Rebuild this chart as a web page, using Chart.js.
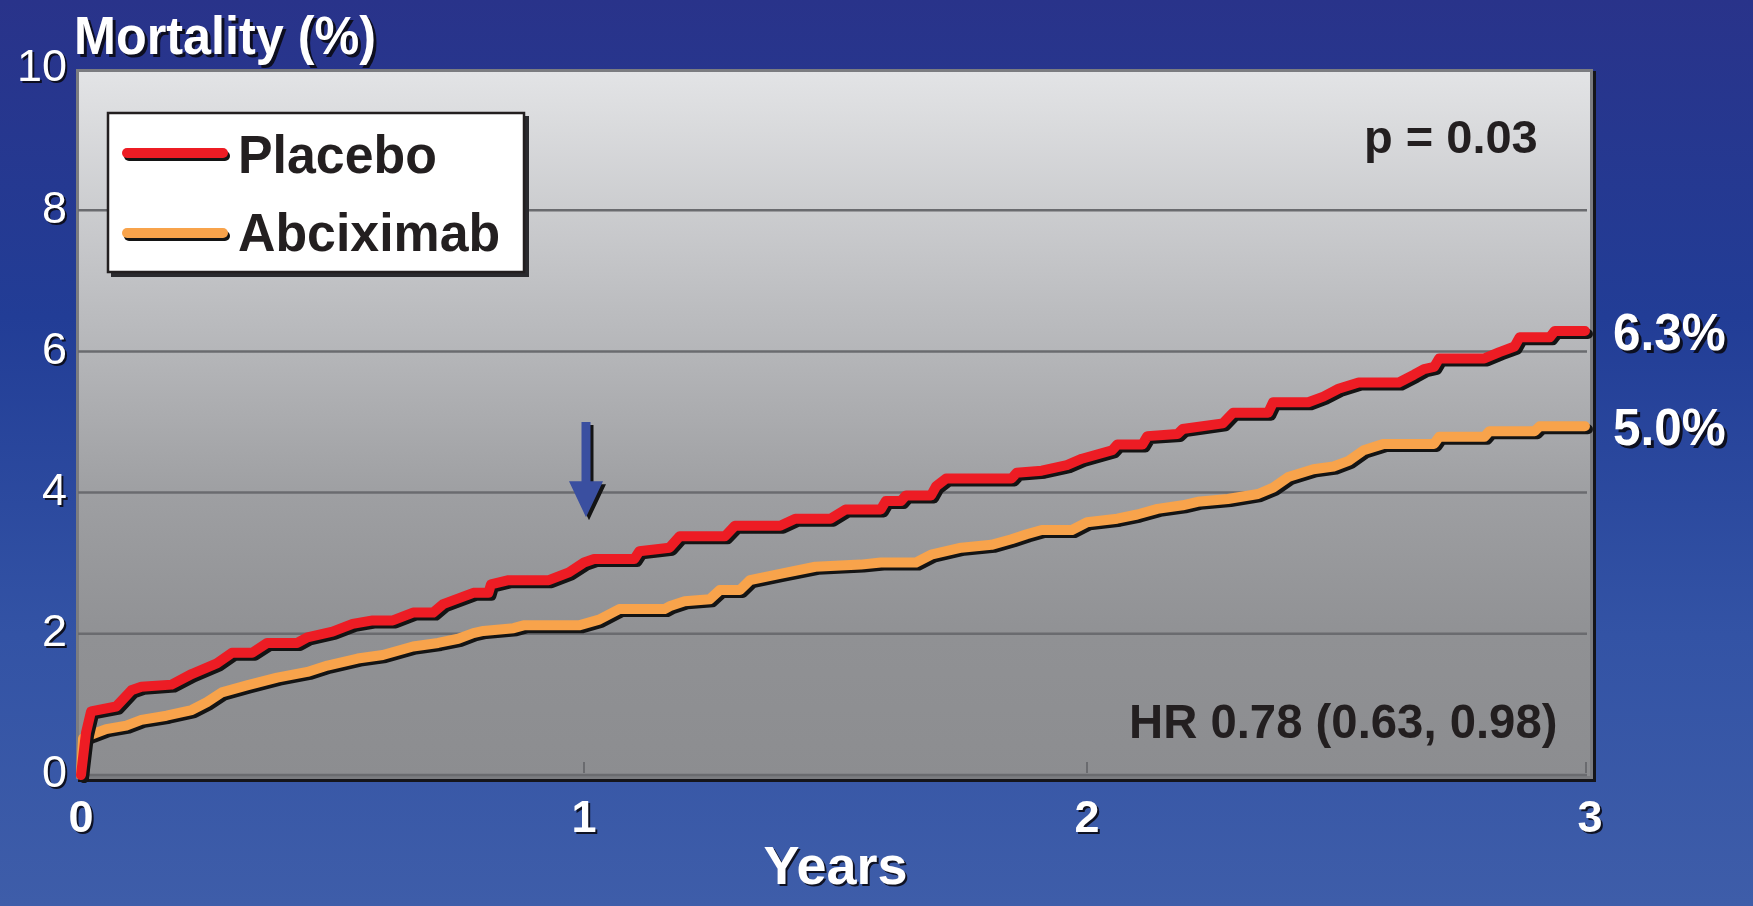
<!DOCTYPE html>
<html>
<head>
<meta charset="utf-8">
<script src="https://cdn.jsdelivr.net/npm/chart.js@4.4.0/dist/chart.umd.min.js"></script>
<style>
  html, body { margin: 0; padding: 0; }
  #wrap {
    width: 1753px; height: 906px; position: relative;
    background: linear-gradient(to bottom, #29338a 0%, #223d96 35%, #3353a5 70%, #3e5da9 100%);
  }
</style>
</head>
<body>
<div id="wrap"><canvas id="chart"></canvas></div>
<script>
// tick values / labels
const xTickValues = [0, 1, 2, 3];
const xTickLabels = ['0', '1', '2', '3'];
const yTickValues = [0, 2, 4, 6, 8, 10];
const yTickLabels = ['0', '2', '4', '6', '8', '10'];

// Placebo: years, cumulative mortality %
const placeboYears = [0, 0.01, 0.02, 0.07, 0.1, 0.12, 0.18, 0.22, 0.27, 0.3, 0.34, 0.37, 0.43, 0.45, 0.5, 0.54, 0.58, 0.62, 0.66, 0.7,
  0.72, 0.78, 0.81, 0.815, 0.85, 0.93, 0.97, 1.0, 1.02, 1.1, 1.11, 1.17, 1.19, 1.28, 1.3, 1.39, 1.42, 1.49, 1.52, 1.59,
  1.6, 1.63, 1.64, 1.69, 1.7, 1.72, 1.85, 1.86, 1.91, 1.96, 1.99, 2.05, 2.06, 2.11, 2.12, 2.18, 2.19, 2.27, 2.29, 2.36,
  2.37, 2.44, 2.47, 2.5, 2.54, 2.62, 2.65, 2.67, 2.69, 2.7, 2.79, 2.82, 2.85, 2.86, 2.92, 2.93, 2.99];
const placeboPct = [0, 0.6, 0.9, 0.97, 1.2, 1.25, 1.28, 1.43, 1.58, 1.73, 1.73, 1.87, 1.87, 1.95, 2.03, 2.14, 2.19, 2.19, 2.3, 2.3,
  2.42, 2.58, 2.58, 2.7, 2.76, 2.76, 2.87, 3.01, 3.06, 3.06, 3.17, 3.22, 3.38, 3.38, 3.53, 3.53, 3.63, 3.63, 3.76, 3.76,
  3.88, 3.88, 3.96, 3.96, 4.09, 4.2, 4.2, 4.28, 4.31, 4.39, 4.48, 4.6, 4.68, 4.68, 4.8, 4.83, 4.9, 4.98, 5.13, 5.13,
  5.28, 5.28, 5.36, 5.47, 5.56, 5.56, 5.67, 5.75, 5.78, 5.9, 5.9, 5.99, 6.07, 6.2, 6.2, 6.29, 6.29];

// Abciximab
const abcixYears = [0, 0.004, 0.02, 0.05, 0.09, 0.12, 0.17, 0.22, 0.25, 0.28, 0.33, 0.39, 0.45, 0.49, 0.55, 0.6, 0.66, 0.71, 0.75, 0.78,
  0.8, 0.86, 0.88, 0.99, 1.03, 1.07, 1.16, 1.17, 1.2, 1.25, 1.27, 1.31, 1.33, 1.39, 1.46, 1.55, 1.59, 1.66, 1.69, 1.75,
  1.81, 1.85, 1.88, 1.91, 1.97, 2.0, 2.06, 2.1, 2.14, 2.19, 2.22, 2.28, 2.34, 2.37, 2.4, 2.45, 2.49, 2.52, 2.55, 2.59,
  2.69, 2.7, 2.79, 2.8, 2.89, 2.9, 2.99];
const abcixPct = [0, 0.52, 0.57, 0.65, 0.7, 0.78, 0.84, 0.92, 1.03, 1.17, 1.27, 1.38, 1.46, 1.55, 1.65, 1.7, 1.82, 1.87, 1.93, 2.01,
  2.04, 2.08, 2.12, 2.12, 2.2, 2.35, 2.35, 2.39, 2.46, 2.49, 2.62, 2.62, 2.76, 2.85, 2.95, 2.98, 3.01, 3.01, 3.12, 3.22,
  3.26, 3.34, 3.41, 3.47, 3.47, 3.58, 3.63, 3.69, 3.77, 3.82, 3.87, 3.91, 3.98, 4.07, 4.22, 4.33, 4.37, 4.45, 4.6, 4.69,
  4.69, 4.79, 4.79, 4.87, 4.87, 4.94, 4.94];

const seriesNames = ['Placebo', 'Abciximab'];
const seriesColors = ['#ed1c24', '#f8a34b'];
const endLabels = ['6.3%', '5.0%'];

// blue arrow at year 1 (value range in %)
const arrowYear = 1;
const arrowTop = 5.0, arrowHeadBase = 4.16, arrowTip = 3.65;

const FONT = '"Liberation Sans", Arial, Helvetica, sans-serif';
Chart.defaults.font.family = FONT;

function setShadow(ctx, dx, dy, color) {
  ctx.shadowColor = color;
  ctx.shadowOffsetX = dx;
  ctx.shadowOffsetY = dy;
  ctx.shadowBlur = 0;
}
function noShadow(ctx) {
  ctx.shadowColor = 'rgba(0,0,0,0)';
  ctx.shadowOffsetX = 0;
  ctx.shadowOffsetY = 0;
  ctx.shadowBlur = 0;
}
// slightly condensed, taller text like the slide font
function tallText(ctx, txt, x, y, sx) {
  ctx.save();
  ctx.translate(x, y);
  ctx.scale(sx, 1);
  ctx.fillText(txt, 0, 0);
  ctx.restore();
}

const decor = {
  id: 'decor',
  beforeDraw(chart) {
    const ctx = chart.ctx, a = chart.chartArea;
    const xs = chart.scales.x, ys = chart.scales.y;
    const L = a.left - 5, T = a.top, R = a.right + 3, B = a.bottom + 4;
    noShadow(ctx);
    ctx.save();
    // panel shadow
    ctx.fillStyle = '#15151a';
    ctx.fillRect(L + 2, T + 2, R - L + 1, B - T + 1);
    // panel
    const g = ctx.createLinearGradient(0, T, 0, B);
    g.addColorStop(0, '#e3e4e6');
    g.addColorStop(0.3, '#c0c1c4');
    g.addColorStop(0.6, '#9e9fa2');
    g.addColorStop(0.8, '#909194');
    g.addColorStop(1, '#8c8d90');
    ctx.fillStyle = g;
    ctx.fillRect(L, T, R - L, B - T);
    ctx.strokeStyle = '#7b7c80';
    ctx.lineWidth = 3;
    ctx.strokeRect(L + 1.5, T + 1.5, R - L - 3, B - T - 3);
    // horizontal gridlines
    ctx.strokeStyle = '#6a6b6f';
    ctx.lineWidth = 2.5;
    yTickValues.forEach(v => {
      if (v >= 10) return;
      const py = ys.getPixelForValue(v);
      ctx.beginPath();
      ctx.moveTo(L + 2, py);
      ctx.lineTo(R - 6, py);
      ctx.stroke();
    });
    // small tick marks on x axis
    ctx.lineWidth = 2;
    xTickValues.forEach(v => {
      if (v === 0) return;
      const px = xs.getPixelForValue(v) - (v === 3 ? 4 : 0);
      ctx.beginPath();
      ctx.moveTo(px, a.bottom - 13);
      ctx.lineTo(px, a.bottom - 2);
      ctx.stroke();
    });
    ctx.restore();
    // shadow for axis labels and axis title
    setShadow(ctx, 2, 2, 'rgba(10,10,20,0.9)');
  },
  beforeDatasetsDraw(chart) {
    setShadow(chart.ctx, 3, 3, '#141414');
  },
  afterDatasetsDraw(chart) {
    noShadow(chart.ctx);
  },
  afterDraw(chart) {
    const ctx = chart.ctx;
    const xs = chart.scales.x, ys = chart.scales.y;
    ctx.save();

    // title
    setShadow(ctx, 3, 3, 'rgba(10,10,20,0.9)');
    ctx.fillStyle = '#ffffff';
    ctx.font = 'bold 53px ' + FONT;
    ctx.textBaseline = 'alphabetic';
    ctx.textAlign = 'left';
    tallText(ctx, 'Mortality (%)', 74, 54, 0.95);

    // end labels
    ctx.font = 'bold 51px ' + FONT;
    ctx.textBaseline = 'middle';
    chart.data.datasets.forEach((ds, i) => {
      const last = ds.data[ds.data.length - 1];
      tallText(ctx, endLabels[i], 1613, ys.getPixelForValue(last.y) + 5, 0.97);
    });

    // arrow
    const ax = xs.getPixelForValue(arrowYear) + 2;
    const yTop = ys.getPixelForValue(arrowTop);
    const yBase = ys.getPixelForValue(arrowHeadBase);
    const yTip = ys.getPixelForValue(arrowTip);
    setShadow(ctx, 3, 3, '#141414');
    ctx.fillStyle = '#3a4fa0';
    ctx.beginPath();
    ctx.moveTo(ax - 4.5, yTop);
    ctx.lineTo(ax + 4.5, yTop);
    ctx.lineTo(ax + 4.5, yBase);
    ctx.lineTo(ax + 17, yBase);
    ctx.lineTo(ax, yTip);
    ctx.lineTo(ax - 17, yBase);
    ctx.lineTo(ax - 4.5, yBase);
    ctx.closePath();
    ctx.fill();

    // legend box
    setShadow(ctx, 4, 4, '#2a2a2e');
    ctx.fillStyle = '#ffffff';
    ctx.fillRect(107, 112, 418, 161);
    noShadow(ctx);
    ctx.strokeStyle = '#231f20';
    ctx.lineWidth = 2.5;
    ctx.strokeRect(108, 113, 416, 159);
    const rows = [153, 233];
    ctx.lineCap = 'round';
    ctx.lineWidth = 10;
    seriesNames.forEach((name, i) => {
      setShadow(ctx, 2, 3, '#141414');
      ctx.strokeStyle = seriesColors[i];
      ctx.beginPath();
      ctx.moveTo(127, rows[i]);
      ctx.lineTo(223, rows[i]);
      ctx.stroke();
      noShadow(ctx);
      ctx.fillStyle = '#231f20';
      ctx.font = 'bold 54px ' + FONT;
      ctx.textBaseline = 'alphabetic';
      tallText(ctx, name, 238, rows[i] + 20 - (i === 1 ? 2 : 0), 0.96);
    });

    // statistics
    noShadow(ctx);
    ctx.fillStyle = '#231f20';
    ctx.font = 'bold 47px ' + FONT;
    ctx.textBaseline = 'alphabetic';
    ctx.fillText('p = 0.03', 1364, 153);
    ctx.font = 'bold 49px ' + FONT;
    tallText(ctx, 'HR 0.78 (0.63, 0.98)', 1129, 738, 0.965);

    ctx.restore();
  }
};

function toPoints(xsArr, ysArr) {
  return xsArr.map((t, i) => ({ x: t, y: ysArr[i] }));
}

const ctx = document.getElementById('chart').getContext('2d');
new Chart(ctx, {
  type: 'line',
  data: {
    datasets: [
      {
        label: seriesNames[0],
        data: toPoints(placeboYears, placeboPct),
        borderColor: seriesColors[0],
        borderWidth: 10,
        pointRadius: 0,
        tension: 0,
        borderJoinStyle: 'round',
        borderCapStyle: 'round',
        clip: false
      },
      {
        label: seriesNames[1],
        data: toPoints(abcixYears, abcixPct),
        borderColor: seriesColors[1],
        borderWidth: 10,
        pointRadius: 0,
        tension: 0,
        borderJoinStyle: 'round',
        borderCapStyle: 'round',
        clip: false
      }
    ]
  },
  options: {
    responsive: true,
    maintainAspectRatio: false,
    animation: false,
    layout: { padding: { top: 69, right: 163, left: 0, bottom: 0 } },
    plugins: {
      legend: { display: false },
      tooltip: { enabled: false },
      title: { display: false }
    },
    scales: {
      x: {
        type: 'linear',
        min: 0,
        max: 3,
        afterFit(s) { s.height = 131; },
        afterBuildTicks(s) { s.ticks = xTickValues.map(v => ({ value: v })); },
        grid: { display: false },
        border: { display: false },
        ticks: {
          color: '#ffffff',
          padding: 10,
          maxRotation: 0,
          font: { size: 45, weight: 'bold' },
          callback: (v) => xTickLabels[xTickValues.indexOf(v)]
        },
        title: {
          display: true,
          text: 'Years',
          color: '#ffffff',
          font: { size: 54, weight: 'bold', lineHeight: 1.2 },
          padding: { top: 0, bottom: 4 }
        }
      },
      y: {
        min: 0,
        max: 10,
        afterFit(s) { s.width = 81; },
        afterBuildTicks(s) { s.ticks = yTickValues.map(v => ({ value: v })); },
        grid: { display: false },
        border: { display: false },
        ticks: {
          color: '#ffffff',
          padding: 6,
          font: { size: 45 },
          callback: (v) => yTickLabels[yTickValues.indexOf(v)]
        }
      }
    }
  },
  plugins: [decor]
});
</script>
</body>
</html>
